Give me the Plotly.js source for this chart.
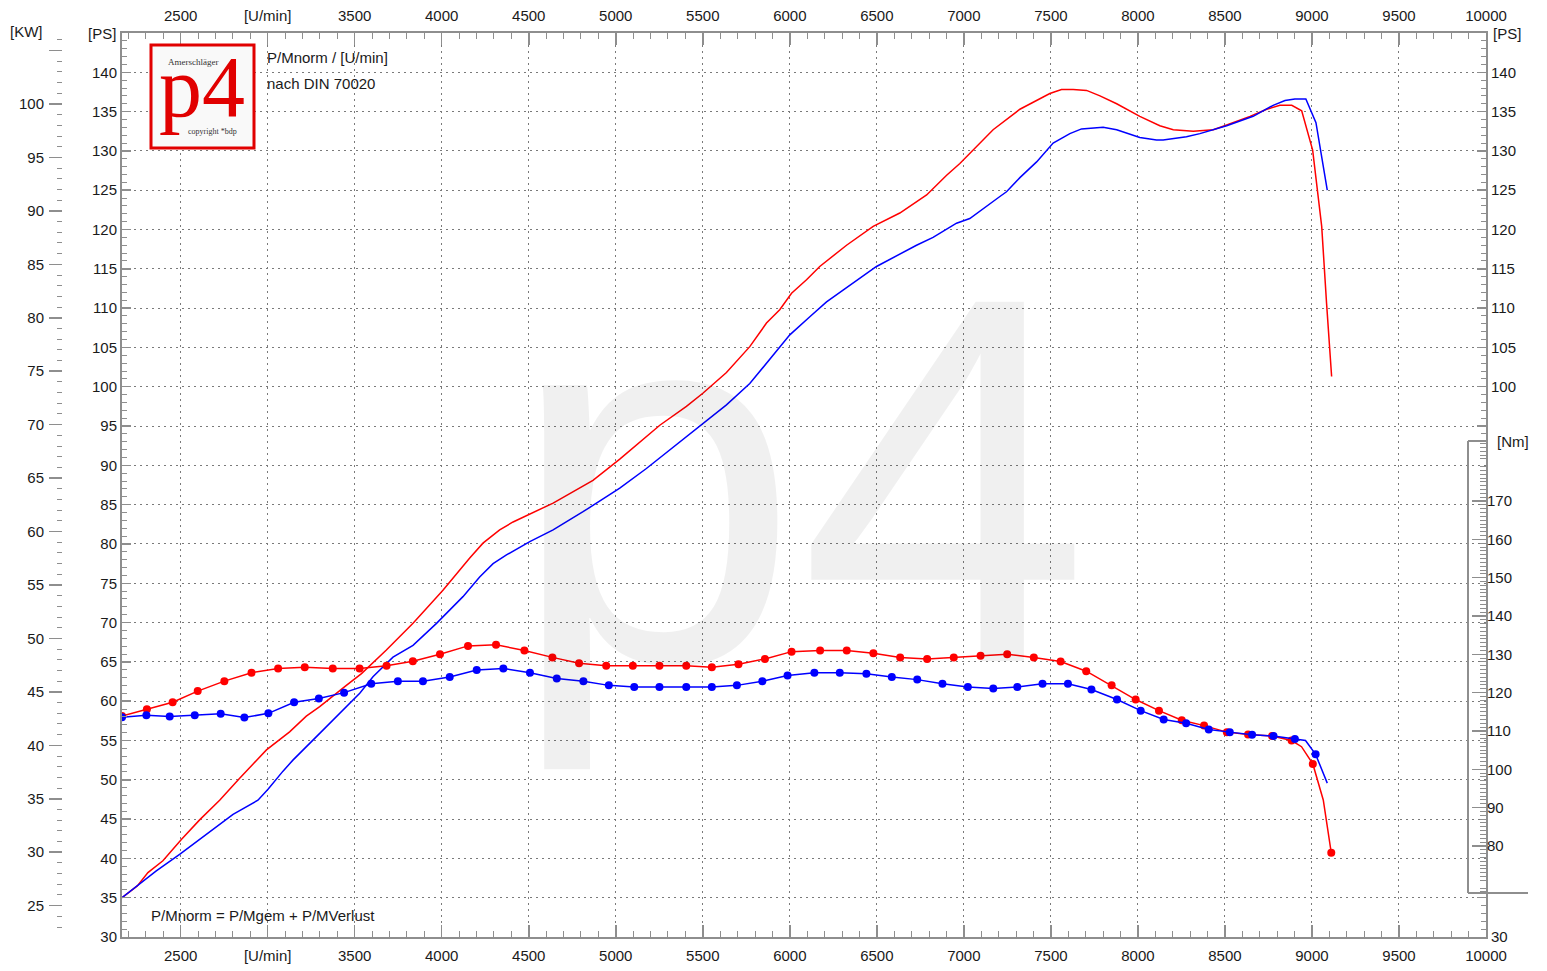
<!DOCTYPE html>
<html>
<head>
<meta charset="utf-8">
<script src="https://cdn.plot.ly/plotly-3.0.1.min.js"></script>
<style>
html,body{margin:0;padding:0;background:#fff;}
#chart{width:1547px;height:971px;}
</style>
</head>
<body>
<div id="chart"></div>
<script>
// ---------------- data ----------------
const rpmTickVals = [2500,3000,3500,4000,4500,5000,5500,6000,6500,7000,7500,8000,8500,9000,9500,10000];
const rpmTickText = ['2500','[U/min]','3500','4000','4500','5000','5500','6000','6500','7000','7500','8000','8500','9000','9500','10000'];
const psTickVals = [30,35,40,45,50,55,60,65,70,75,80,85,90,95,100,105,110,115,120,125,130,135,140];
const psRightTickVals = [30,35,95,100,105,110,115,120,125,130,135,140];
const psRightTickText = ['30','','','100','105','110','115','120','125','130','135','140'];
const kwTickVals = [25,30,35,40,45,50,55,60,65,70,75,80,85,90,95,100,105];
const kwTickText = ['25','30','35','40','45','50','55','60','65','70','75','80','85','90','95','100',''];
const nmTickVals = [80,90,100,110,120,130,140,150,160,170];

// Power (PS) - red (P norm)
const redPowerRpm = [2163,2251,2312,2398,2504,2609,2724,2839,2993,3126,3222,3299,3452,3539,3682,3835,3912,4007,4161,4237,4333,4410,4640,4869,5023,5099,5253,5406,5502,5636,5770,5866,5942,6010,6096,6172,6326,6479,6632,6786,6901,6977,7053,7168,7322,7494,7561,7628,7705,7782,7878,8011,8126,8203,8318,8433,8510,8644,8740,8816,8884,8941,9004,9056,9084,9113];
const redPowerPs = [35.0,36.5,38.2,39.7,42.4,44.9,47.4,50.2,53.8,56.1,58.1,59.3,62.0,63.5,66.5,69.9,71.8,74.1,78.2,80.1,81.8,82.8,85.2,88.1,90.8,92.2,95.1,97.5,99.2,101.8,105.1,108.1,109.8,111.9,113.6,115.3,118.0,120.4,122.1,124.4,126.9,128.4,130.1,132.7,135.3,137.3,137.8,137.8,137.7,137.0,136.0,134.4,133.2,132.7,132.5,132.7,133.3,134.4,135.3,135.8,135.8,135.1,130.1,120.4,110.6,101.3];

// Power (PS) - blue
const bluePowerRpm = [2163,2251,2360,2494,2648,2801,2944,3002,3088,3145,3299,3433,3529,3605,3720,3835,3970,4122,4218,4295,4372,4506,4640,4812,5023,5176,5272,5502,5636,5770,5866,5942,6000,6115,6211,6306,6498,6728,6823,6958,7034,7207,7245,7322,7418,7513,7609,7676,7800,7878,8011,8107,8145,8279,8356,8510,8662,8777,8845,8902,8965,9023,9088];
const bluePowerPs = [35.0,36.5,38.4,40.5,43.1,45.6,47.4,48.8,51.1,52.5,55.9,58.9,61.0,63.1,65.6,67.1,69.9,73.3,75.8,77.5,78.6,80.3,81.8,84.1,87.1,89.6,91.3,95.3,97.7,100.4,103.0,105.1,106.6,108.9,110.8,112.3,115.3,118.0,119.0,120.8,121.4,124.2,124.8,126.6,128.6,131.0,132.2,132.8,133.0,132.7,131.7,131.4,131.4,131.8,132.2,133.2,134.4,135.8,136.4,136.6,136.6,133.6,125.0];

// Torque (Nm) - red, measured points (with dots)
const redTorqueRpm = [2163,2306,2454,2598,2751,2907,3060,3213,3374,3528,3683,3834,3990,4151,4312,4475,4636,4789,4945,5098,5251,5405,5552,5705,5857,6010,6174,6327,6480,6634,6789,6942,7096,7249,7402,7556,7703,7849,7987,8121,8252,8380,8511,8633,8771,8883,9005,9111];
const redTorqueNm = [113.9,115.7,117.5,120.4,123.0,125.2,126.3,126.6,126.3,126.3,127.0,128.2,130.0,132.2,132.5,131.0,129.2,127.7,127.0,127.0,127.0,127.0,126.6,127.4,128.8,130.7,131.0,131.0,130.3,129.2,128.8,129.2,129.6,130.0,129.2,128.1,125.6,121.9,118.2,115.3,112.8,111.4,109.7,109.1,108.7,107.5,101.4,78.2];
// red torque curve points between dots
const redTorqueExtraRpm = [8940,9065];
const redTorqueExtraNm = [105.9,92.0];

// Torque (Nm) - blue
const blueTorqueRpm = [2163,2303,2437,2581,2730,2866,3004,3152,3294,3439,3595,3748,3892,4046,4201,4354,4507,4661,4814,4960,5106,5251,5405,5552,5696,5842,5987,6141,6287,6440,6586,6732,6877,7023,7169,7307,7452,7598,7733,7880,8016,8148,8277,8407,8528,8656,8779,8902,9021];
const blueTorqueNm = [113.6,114.1,113.8,114.1,114.5,113.5,114.6,117.5,118.5,120.0,122.3,123.0,123.0,124.1,125.9,126.3,125.2,123.7,123.0,121.9,121.5,121.5,121.5,121.5,121.9,123.0,124.5,125.2,125.2,124.9,124.1,123.4,122.3,121.5,121.1,121.5,122.3,122.3,120.8,118.2,115.3,113.0,112.0,110.4,109.7,109.0,108.7,107.9,103.9];
const blueTorqueExtraRpm = [8963,9088];
const blueTorqueExtraNm = [107.5,96.4];

// ---------------- helpers ----------------
const W = 1547, H = 971;
const PL = 122, PR = 1486, PT = 33, PB = 937;
const fx = px => px / W;
const fy = py => (PB - py) / (PB - PT);
const KW_PER_PS = 0.73549875;
const FONT = 'Liberation Sans, Arial, Helvetica, sans-serif';
const SERIF = 'Liberation Serif, Times New Roman, serif';
const axisGray = '#8e8e8e';
const RED = '#ff0000', BLUE = '#0000ff';

function merge(r1, v1, r2, v2) {
  const pts = r1.map((r, i) => [r, v1[i]]).concat(r2.map((r, i) => [r, v2[i]]));
  pts.sort((a, b) => a[0] - b[0]);
  return {x: pts.map(p => p[0]), y: pts.map(p => p[1])};
}
function range(a, b, skipMod) {
  const out = [];
  for (let v = a; v <= b; v++) if (!skipMod || v % skipMod !== 0) out.push(v);
  return out;
}

const redTqLine = merge(redTorqueRpm, redTorqueNm, redTorqueExtraRpm, redTorqueExtraNm);
const blueTqLine = merge(blueTorqueRpm, blueTorqueNm, blueTorqueExtraRpm, blueTorqueExtraNm);

const psRightMinor = range(31, 34).concat([94]).concat(range(96, 144, 5));
const nmMinor = range(68, 185, 10);

// ---------------- traces ----------------
const traces = [
  {x: [null], y: [null], xaxis: 'x2', yaxis: 'y', mode: 'lines', hoverinfo: 'skip', showlegend: false},
  {x: [null], y: [null], xaxis: 'x', yaxis: 'y2', mode: 'lines', hoverinfo: 'skip', showlegend: false},
  {x: [null], y: [null], xaxis: 'x', yaxis: 'y3', mode: 'lines', hoverinfo: 'skip', showlegend: false},
  {x: redPowerRpm, y: redPowerPs, xaxis: 'x', yaxis: 'y', mode: 'lines', line: {color: RED, width: 1.5}, name: 'P norm'},
  {x: bluePowerRpm, y: bluePowerPs, xaxis: 'x', yaxis: 'y', mode: 'lines', line: {color: BLUE, width: 1.5}, name: 'P'},
  {x: redTqLine.x, y: redTqLine.y, xaxis: 'x', yaxis: 'y4', mode: 'lines', line: {color: RED, width: 1.5}, name: 'M norm'},
  {x: redTorqueRpm, y: redTorqueNm, xaxis: 'x', yaxis: 'y4', mode: 'markers', marker: {color: RED, size: 8}, name: 'M norm pts'},
  {x: blueTqLine.x, y: blueTqLine.y, xaxis: 'x', yaxis: 'y4', mode: 'lines', line: {color: BLUE, width: 1.5}, name: 'M'},
  {x: blueTorqueRpm, y: blueTorqueNm, xaxis: 'x', yaxis: 'y4', mode: 'markers', marker: {color: BLUE, size: 8}, name: 'M pts'}
];

// ---------------- layout ----------------
const grid = {showgrid: true, gridcolor: '#7a7a7a', gridwidth: 1, griddash: '2px,4px'};
const xCommon = {
  domain: [fx(PL), fx(PR)], range: [2163, 10000], tickmode: 'array',
  tickvals: rpmTickVals, ticktext: rpmTickText,
  ticks: 'inside', ticklen: 12, tickwidth: 1.5, tickcolor: axisGray,
  showline: true, linecolor: axisGray, linewidth: 2, zeroline: false,
  ticklabelstandoff: 4,
  tickfont: {family: FONT, size: 15, color: '#1a1a1a'},
  minor: {ticks: 'inside', ticklen: 6, tickwidth: 1, tickcolor: axisGray, dtick: 100, tick0: 0, showgrid: false},
  fixedrange: true
};

const annot = (text, px, py, opts) => Object.assign({
  text: text, x: fx(px), y: fy(py), xref: 'paper', yref: 'paper', showarrow: false,
  xanchor: 'center', yanchor: 'middle', font: {family: FONT, size: 15, color: '#1a1a1a'}
}, opts || {});

const layout = {
  width: W, height: H,
  margin: {l: 0, r: 0, t: PT, b: H - PB, pad: 0},
  paper_bgcolor: '#ffffff', plot_bgcolor: '#ffffff',
  showlegend: false,
  font: {family: FONT, size: 15, color: '#1a1a1a'},
  xaxis: Object.assign({}, xCommon, grid, {anchor: 'y', side: 'bottom'}),
  xaxis2: Object.assign({}, xCommon, {overlaying: 'x', anchor: 'y', side: 'top', showgrid: false}),
  yaxis: Object.assign({
    domain: [0, 1], range: [30, 145], anchor: 'x', side: 'left', tickmode: 'array',
    tickvals: psTickVals, ticks: 'inside', ticklen: 9, tickwidth: 1.5, tickcolor: axisGray,
    showline: true, linecolor: axisGray, linewidth: 2, zeroline: false,
    tickfont: {family: FONT, size: 15, color: '#1a1a1a'},
    minor: {ticks: 'inside', ticklen: 5, tickwidth: 1, tickcolor: axisGray, dtick: 1, tick0: 0, showgrid: false},
    fixedrange: true
  }, grid),
  yaxis2: {
    overlaying: 'y', anchor: 'free', position: fx(62), side: 'left',
    range: [30 * KW_PER_PS, 145 * KW_PER_PS], tickmode: 'array',
    tickvals: kwTickVals, ticktext: kwTickText,
    ticks: 'outside', ticklen: 13, tickwidth: 1.5, tickcolor: axisGray,
    showline: false, showgrid: false, zeroline: false,
    ticklabelstandoff: 2,
    tickfont: {family: FONT, size: 15, color: '#1a1a1a'},
    minor: {ticks: 'outside', ticklen: 5, tickwidth: 1, tickcolor: axisGray, dtick: 1, tick0: 0, showgrid: false},
    fixedrange: true
  },
  yaxis3: {
    overlaying: 'y', anchor: 'x', side: 'right', range: [30, 145], tickmode: 'array',
    tickvals: psRightTickVals, ticktext: psRightTickText,
    ticks: 'inside', ticklen: 9, tickwidth: 1.5, tickcolor: axisGray,
    showline: true, linecolor: axisGray, linewidth: 2, showgrid: false, zeroline: false,
    tickfont: {family: FONT, size: 15, color: '#1a1a1a'},
    minor: {tickmode: 'array', tickvals: psRightMinor, ticks: 'inside', ticklen: 5, tickwidth: 1, tickcolor: axisGray, showgrid: false},
    fixedrange: true
  },
  yaxis4: {
    overlaying: 'y', anchor: 'x', side: 'right', range: [56.25, 292.1], tickmode: 'array',
    tickvals: nmTickVals, ticks: 'inside', ticklen: 14, tickwidth: 1.5, tickcolor: axisGray,
    showline: false, showgrid: false, zeroline: false,
    tickfont: {family: FONT, size: 15, color: '#1a1a1a'},
    minor: {tickmode: 'array', tickvals: nmMinor, ticks: 'inside', ticklen: 6, tickwidth: 1, tickcolor: axisGray, showgrid: false},
    fixedrange: true
  },
  shapes: [
    // Nm scale bracket
    {type: 'line', xref: 'paper', yref: 'paper', x0: fx(1468), x1: fx(1468), y0: fy(441), y1: fy(893), line: {color: axisGray, width: 2}, layer: 'above'},
    {type: 'line', xref: 'paper', yref: 'paper', x0: fx(1468), x1: fx(1486), y0: fy(441), y1: fy(441), line: {color: axisGray, width: 2}, layer: 'above'},
    {type: 'line', xref: 'paper', yref: 'paper', x0: fx(1468), x1: fx(1528), y0: fy(893), y1: fy(893), line: {color: axisGray, width: 2}, layer: 'above'},
    // logo box
    {type: 'rect', xref: 'paper', yref: 'paper', x0: fx(151), x1: fx(254), y0: fy(45), y1: fy(148), line: {color: '#e10000', width: 3}, fillcolor: '#f9f9f9', layer: 'above'}
  ],
  annotations: [
    // watermark
    annot('p4', 799, 481, {font: {family: FONT, size: 522, color: 'rgba(0,0,0,0.058)'}}),
    // unit labels
    annot('[KW]', 26, 32),
    annot('[PS]', 102, 33),
    annot('[PS]', 1507, 33),
    annot('[Nm]', 1513, 441),
    // chart texts
    annot('P/Mnorm / [U/min]', 265, 57, {xanchor: 'left'}),
    annot('nach DIN 70020', 265, 84, {xanchor: 'left'}),
    annot('P/Mnorm = P/Mgem + P/MVerlust', 149, 915, {xanchor: 'left'}),
    // logo texts
    annot('p4', 202, 87, {font: {family: SERIF, size: 86, color: '#e10000'}}),
    annot('Amerschläger', 193, 62, {font: {family: SERIF, size: 9, color: '#333333'}}),
    annot('copyright *bdp', 212, 131, {font: {family: SERIF, size: 8, color: '#333333'}})
  ]
};

Plotly.newPlot('chart', traces, layout, {staticPlot: true, displayModeBar: false});
</script>
</body>
</html>
